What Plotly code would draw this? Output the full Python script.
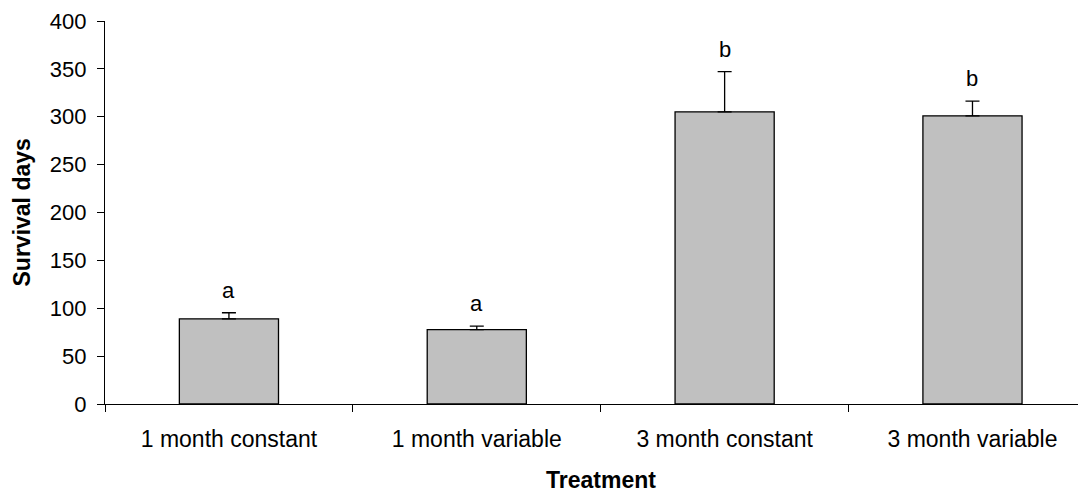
import plotly.graph_objects as go

categories = ["1 month constant", "1 month variable", "3 month constant", "3 month variable"]
survival_days = [89.0, 77.6, 305.1, 301.0]
error_plus = [6.3, 3.8, 42.1, 15.3]
group_letters = ["a", "a", "b", "b"]
y_ticks = [0, 50, 100, 150, 200, 250, 300, 350, 400]

FONT = "Liberation Sans, Arial, sans-serif"
PAGE_OFFSET = 8  # default body margin of the html page
W, H = 1086 - PAGE_OFFSET, 493 - PAGE_OFFSET
ML, MR, MT, MB = 105 - PAGE_OFFSET, 0, 21 - PAGE_OFFSET, 89
PW, PH = W - ML - MR, H - MT - MB

fig = go.Figure()
fig.add_trace(go.Bar(
    x=categories,
    y=survival_days,
    width=0.4,
    marker=dict(color="#C0C0C0", line=dict(color="black", width=1.3)),
    error_y=dict(type="data", array=error_plus, symmetric=False,
                 arrayminus=[0] * len(error_plus),
                 color="black", thickness=1.3, width=7),
    showlegend=False,
))

for cat, v, e, lab in zip(categories, survival_days, error_plus, group_letters):
    fig.add_annotation(x=cat, y=v + e, text=lab, showarrow=False,
                       yanchor="bottom", yshift=8,
                       font=dict(family=FONT, size=22, color="black"))

# x-axis title centred on the full category axis
fig.add_annotation(x=1.5, xref="x", y=(MT + PH - (480 - PAGE_OFFSET)) / PH, yref="paper",
                   yanchor="middle", text="<b>Treatment</b>", showarrow=False,
                   font=dict(family=FONT, size=23, color="black"))
# y-axis title
fig.add_annotation(x=(21 - PAGE_OFFSET - ML) / PW, xref="paper", y=0.5, yref="paper",
                   xanchor="center", yanchor="middle", textangle=-90,
                   text="<b>Survival days</b>", showarrow=False,
                   font=dict(family=FONT, size=23, color="black"))

fig.update_layout(
    width=W, height=H,
    margin=dict(l=ML, r=MR, t=MT, b=MB),
    plot_bgcolor="white", paper_bgcolor="white",
    font=dict(family=FONT, size=22, color="black"),
)
fig.update_xaxes(
    type="category", range=[-0.5, 3.458], automargin=False,
    showline=True, linecolor="black", linewidth=1.3,
    ticks="outside", ticklen=7, tickcolor="black", tickwidth=1,
    tickson="boundaries", showgrid=False, zeroline=False,
    tickfont=dict(family=FONT, size=23, color="black"),
    ticklabelstandoff=14,
)
fig.update_yaxes(
    range=[0, 400], tickvals=y_ticks, automargin=False,
    showline=True, linecolor="black", linewidth=1.3,
    ticks="outside", ticklen=7, tickcolor="black", tickwidth=1,
    showgrid=False, zeroline=False,
    tickfont=dict(family=FONT, size=22, color="black"),
    ticklabelstandoff=6,
)

fig.write_html("out.html")
